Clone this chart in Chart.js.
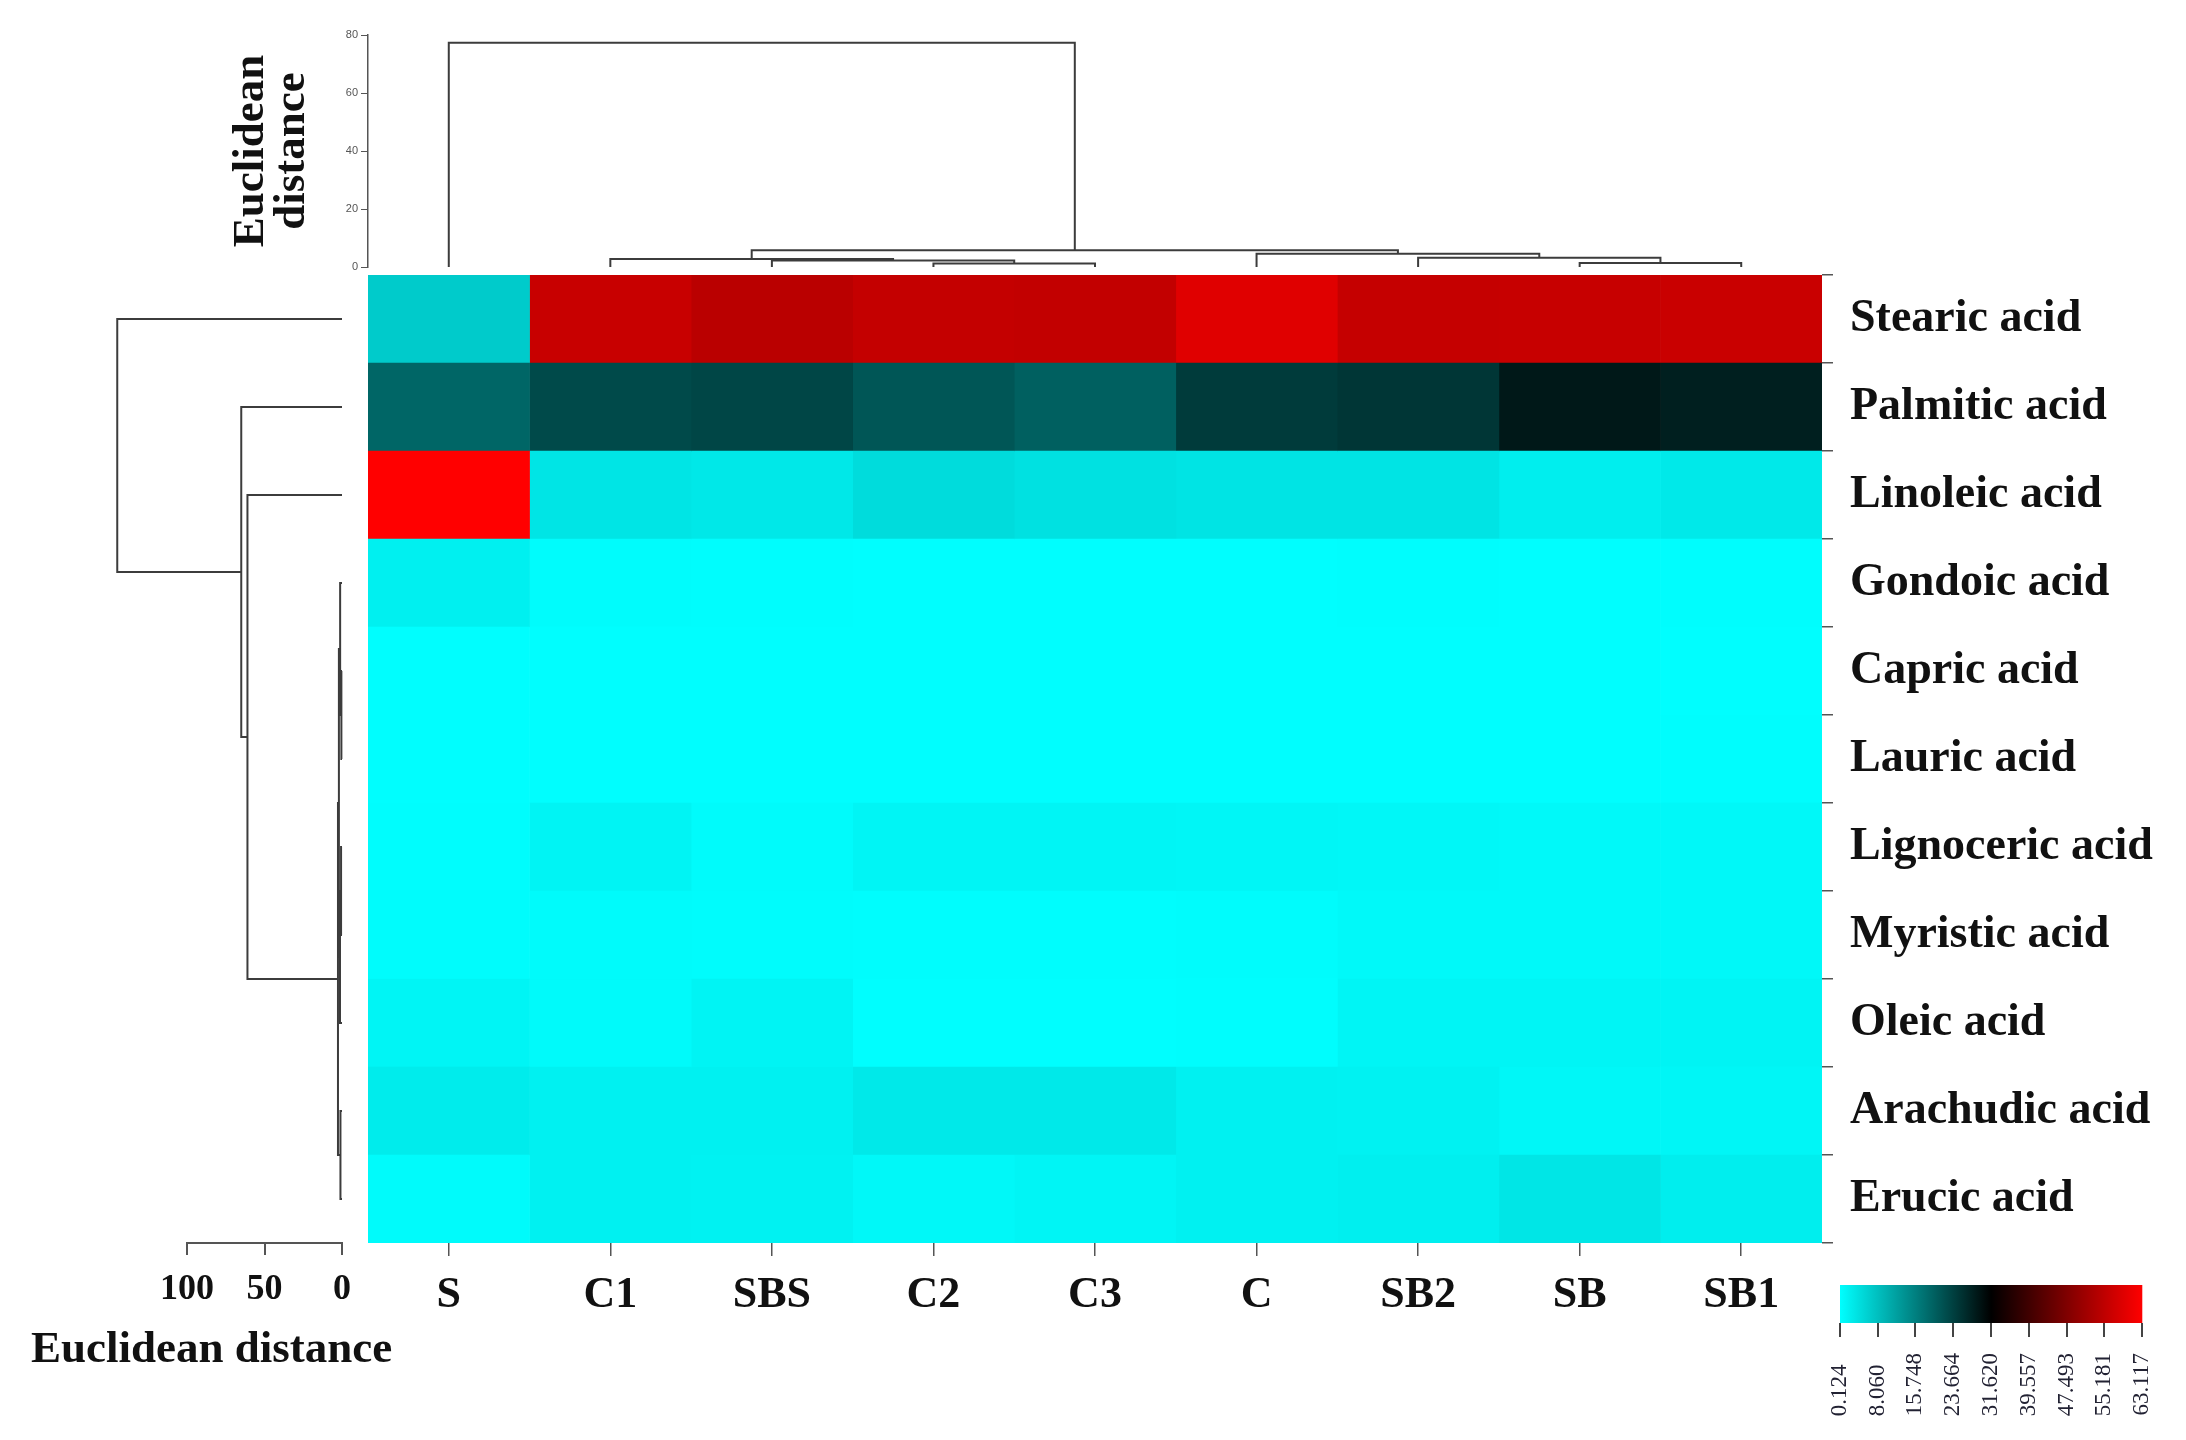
<!DOCTYPE html>
<html>
<head>
<meta charset="utf-8">
<title>Fatty acid heatmap</title>
<script src="https://cdn.jsdelivr.net/npm/chart.js@4.4.1/dist/chart.umd.min.js"></script>
<style>
    html, body { margin: 0; padding: 0; background: #fff; }
    #wrap { position: relative; width: 2186px; height: 1440px; }
    #wrap canvas { position: absolute; left: 0; top: 0; }
</style>
</head>
<body>
<div id="wrap">
    <canvas id="heat" width="2186" height="1440"></canvas>
    <canvas id="colTree" width="2186" height="1440"></canvas>
    <canvas id="rowTree" width="2186" height="1440"></canvas>
    <canvas id="scaleBar" width="2186" height="1440"></canvas>
</div>
<script>
const sampleNames = ['S', 'C1', 'SBS', 'C2', 'C3', 'C', 'SB2', 'SB', 'SB1'];
const acidNames = [
    'Stearic acid', 'Palmitic acid', 'Linoleic acid', 'Gondoic acid', 'Capric acid',
    'Lauric acid', 'Lignoceric acid', 'Myristic acid', 'Oleic acid', 'Arachudic acid', 'Erucic acid'
];

// one array per acid, values in sample order
const stearic    = [6.5, 56.3, 54.6, 55.8, 55.6, 59.3, 56.0, 56.2, 56.4];
const palmitic   = [19.0, 22.5, 23.0, 21.0, 19.8, 24.3, 24.9, 28.6, 27.8];
const linoleic   = [63.117, 3.3, 3.0, 4.5, 3.8, 3.4, 3.4, 2.2, 2.8];
const gondoic    = [2.0, 0.5, 0.4, 0.3, 0.3, 0.3, 0.4, 0.3, 0.4];
const capric     = [0.3, 0.2, 0.2, 0.2, 0.2, 0.2, 0.2, 0.3, 0.2];
const lauric     = [0.3, 0.3, 0.3, 0.2, 0.2, 0.3, 0.3, 0.3, 0.4];
const lignoceric = [0.4, 1.5, 0.6, 1.3, 1.3, 1.2, 1.1, 0.9, 1.0];
const myristic   = [0.5, 0.6, 0.5, 0.4, 0.4, 0.5, 0.9, 0.9, 1.0];
const oleic      = [1.4, 0.8, 1.5, 0.3, 0.3, 0.4, 1.3, 1.3, 1.5];
const arachudic  = [2.5, 1.9, 1.8, 2.8, 2.8, 1.9, 1.7, 1.1, 1.2];
const erucic     = [0.6, 1.9, 1.7, 1.0, 1.3, 1.9, 2.1, 3.2, 2.2];
const heatRows = [stearic, palmitic, linoleic, gondoic, capric, lauric, lignoceric, myristic, oleic, arachudic, erucic];

// linkage rows: [childA, childB, distance]; leaves are 0..n-1, merged nodes n, n+1, ...
const sampleLinks = [
    [3, 4, 1.2], [7, 8, 1.4], [2, 9, 2.2], [6, 10, 3.2],
    [1, 11, 2.8], [5, 12, 4.6], [13, 14, 5.8], [0, 15, 77.3]
];
const acidLinks = [
    [4, 5, 0.4], [3, 11, 1.2], [6, 7, 0.6], [13, 8, 1.3], [9, 10, 1.0],
    [12, 14, 2.0], [16, 15, 2.6], [2, 17, 61.0], [1, 18, 65.0], [0, 19, 145.0]
];

const scaleTicks = [0.124, 8.060, 15.748, 23.664, 31.620, 39.557, 47.493, 55.181, 63.117];
const scaleLabels = ['0.124', '8.060', '15.748', '23.664', '31.620', '39.557', '47.493', '55.181', '63.117'];

const serif = "'Liberation Serif', 'Times New Roman', serif";
const vMin = scaleTicks[0];
const vMax = scaleTicks[scaleTicks.length - 1];
const vMid = (vMin + vMax) / 2;

// cyan -> black -> red
function heatColor(v) {
    if (v <= vMid) {
        const t = Math.min(1, Math.max(0, (v - vMin) / (vMid - vMin)));
        const g = Math.round(255 * (1 - t));
        return `rgb(0,${g},${g})`;
    }
    const t = Math.min(1, (v - vMid) / (vMax - vMid));
    return `rgb(${Math.round(255 * t)},0,0)`;
}

// turn a linkage table into U-shaped segments of [position, height] points
function treeSegments(links, nLeaves) {
    const pos = [], height = [];
    for (let i = 0; i < nLeaves; i++) { pos[i] = i; height[i] = 0; }
    return links.map(([a, b, h], k) => {
        const id = nLeaves + k;
        pos[id] = (pos[a] + pos[b]) / 2;
        height[id] = h;
        return [[pos[a], height[a]], [pos[a], h], [pos[b], h], [pos[b], height[b]]];
    });
}

const treeLine = {
    borderColor: '#3c3c3c',
    borderWidth: 2,
    pointRadius: 0,
    showLine: true,
    fill: false,
    tension: 0,
    clip: false
};

const common = {
    responsive: false,
    animation: false,
    devicePixelRatio: 1,
    events: []
};

const captionPlugin = {
    id: 'caption',
    afterDraw(chart, args, opts) {
        const ctx = chart.ctx;
        ctx.save();
        ctx.font = opts.font;
        ctx.fillStyle = opts.color;
        ctx.textAlign = 'left';
        ctx.textBaseline = 'middle';
        ctx.fillText(opts.text, opts.x, opts.y);
        ctx.restore();
    }
};

// heatmap cells: one floating bar per sample and acid
new Chart(document.getElementById('heat'), {
    type: 'bar',
    data: {
        labels: acidNames,
        datasets: sampleNames.map((name, c) => ({
            label: name,
            data: acidNames.map(() => [c, c + 1]),
            backgroundColor: heatRows.map(row => heatColor(row[c])),
            borderWidth: 0,
            grouped: false,
            barPercentage: 1,
            categoryPercentage: 1
        }))
    },
    options: {
        ...common,
        indexAxis: 'y',
        layout: { padding: { left: 368, top: 275, right: 0, bottom: 0 } },
        plugins: { legend: { display: false }, tooltip: { enabled: false } },
        scales: {
            x: {
                type: 'linear', min: 0, max: 9, position: 'bottom',
                afterBuildTicks: ax => { ax.ticks = sampleNames.map((_, i) => ({ value: i + 0.5 })); },
                afterFit: ax => { ax.height = 197; },
                grid: { drawOnChartArea: false, tickLength: 13, color: '#555', lineWidth: 1.5 },
                border: { display: false },
                ticks: {
                    callback: (v, i) => sampleNames[i],
                    autoSkip: false, maxRotation: 0, padding: 18, color: '#111',
                    font: { family: serif, size: 44, weight: 'bold', lineHeight: 1 }
                }
            },
            y: {
                type: 'category', position: 'right',
                afterFit: ax => { ax.width = 364; },
                grid: { drawOnChartArea: false, tickLength: 11, color: '#555', lineWidth: 1.5 },
                border: { display: false },
                ticks: {
                    padding: 17, color: '#111',
                    font: { family: serif, size: 46, weight: 'bold', lineHeight: 1 }
                }
            }
        }
    }
});

// sample dendrogram above the heatmap
new Chart(document.getElementById('colTree'), {
    type: 'scatter',
    data: {
        datasets: treeSegments(sampleLinks, sampleNames.length).map(seg => ({
            ...treeLine,
            data: seg.map(([p, h]) => ({ x: p, y: h }))
        }))
    },
    options: {
        ...common,
        layout: { padding: { left: 200, top: 35, right: 364, bottom: 1173 } },
        plugins: { legend: { display: false }, tooltip: { enabled: false } },
        scales: {
            x: { type: 'linear', min: -0.5, max: 8.5, display: false },
            y: {
                type: 'linear', min: 0, max: 80,
                afterFit: ax => { ax.width = 168; },
                grid: { drawOnChartArea: false, tickLength: 7, color: '#555' },
                border: { color: '#555', width: 1.5 },
                ticks: { stepSize: 20, padding: 3, color: '#555', font: { size: 11 } },
                title: {
                    display: true,
                    text: ['Euclidean', 'distance'],
                    color: '#111',
                    padding: { top: 30, bottom: 0 },
                    font: { family: serif, size: 45, weight: 'bold', lineHeight: 0.93 }
                }
            }
        }
    }
});

// acid dendrogram left of the heatmap
new Chart(document.getElementById('rowTree'), {
    type: 'scatter',
    data: {
        datasets: treeSegments(acidLinks, acidNames.length).map(seg => ({
            ...treeLine,
            data: seg.map(([p, h]) => ({ x: h, y: p }))
        }))
    },
    plugins: [captionPlugin],
    options: {
        ...common,
        layout: { padding: { left: 187, top: 275, right: 1844, bottom: 0 } },
        plugins: {
            legend: { display: false },
            tooltip: { enabled: false },
            caption: { text: 'Euclidean distance', x: 31, y: 1350, color: '#111', font: `bold 45px ${serif}` }
        },
        scales: {
            x: {
                type: 'linear', min: 0, max: 100, reverse: true, position: 'bottom',
                afterFit: ax => { ax.height = 197; },
                grid: { drawOnChartArea: false, tickLength: 12, color: '#555', lineWidth: 2 },
                border: { color: '#555', width: 2 },
                ticks: {
                    stepSize: 50, padding: 17, color: '#111',
                    font: { family: serif, size: 36, weight: 'bold', lineHeight: 1 }
                }
            },
            y: { type: 'linear', min: -0.5, max: 10.5, reverse: true, display: false }
        }
    }
});

// colour key
new Chart(document.getElementById('scaleBar'), {
    type: 'bar',
    data: {
        labels: [''],
        datasets: [{
            data: [[vMin, vMax]],
            backgroundColor: ctx => {
                const area = ctx.chart.chartArea;
                if (!area) return '#000';
                const g = ctx.chart.ctx.createLinearGradient(area.left, 0, area.right, 0);
                g.addColorStop(0, '#00ffff');
                g.addColorStop(0.5, '#000000');
                g.addColorStop(1, '#ff0000');
                return g;
            },
            borderWidth: 0,
            barPercentage: 1,
            categoryPercentage: 1
        }]
    },
    options: {
        ...common,
        indexAxis: 'y',
        layout: { padding: { left: 1840, top: 1285, right: 40, bottom: 0 } },
        plugins: { legend: { display: false }, tooltip: { enabled: false } },
        scales: {
            y: { display: false },
            x: {
                type: 'linear', min: vMin, max: vMax,
                afterBuildTicks: ax => { ax.ticks = scaleTicks.map(v => ({ value: v })); },
                afterFit: ax => { ax.height = 117; },
                grid: { drawOnChartArea: false, tickLength: 14, color: '#444', lineWidth: 2 },
                border: { display: false },
                ticks: {
                    callback: (v, i) => scaleLabels[i].padEnd(6, '\u2007'),
                    autoSkip: false, minRotation: 90, maxRotation: 90, padding: 16,
                    color: '#223', font: { family: serif, size: 23 }
                }
            }
        }
    }
});
</script>
</body>
</html>
